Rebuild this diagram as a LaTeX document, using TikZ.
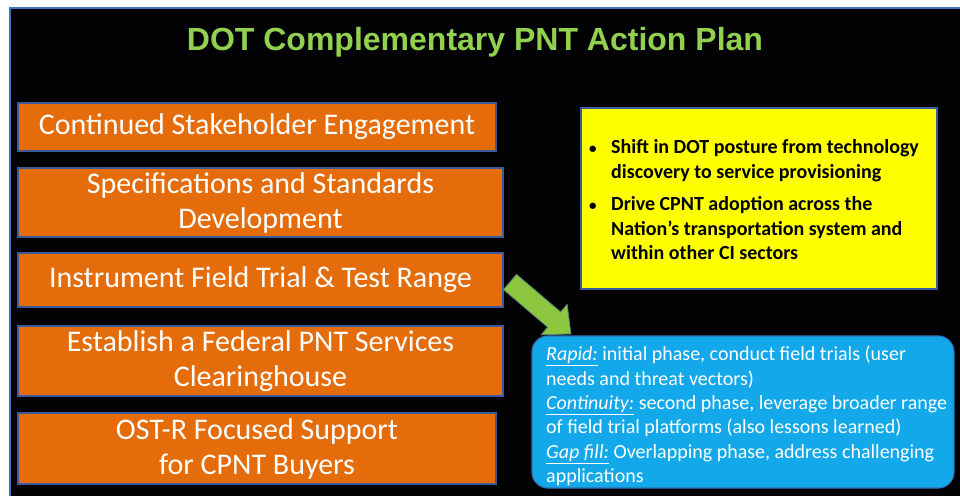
\documentclass[tikz,border=0pt]{standalone}
\usepackage{fontspec}
\setmainfont{Carlito}
\newfontfamily\titlefont{Liberation Sans}
\definecolor{bgblack}{HTML}{020205}
\definecolor{edgeblue}{HTML}{4472C4}
\definecolor{titlegreen}{HTML}{92D050}
\definecolor{boxorange}{HTML}{E46C0A}
\definecolor{boxedge}{HTML}{3B5C9C}
\definecolor{noteyellow}{HTML}{FFFF00}
\definecolor{phaseblue}{HTML}{12A8EA}
\definecolor{arrowgreen}{HTML}{8DC63F}
\begin{document}
\begin{tikzpicture}[x=1pt,y=-1pt,
  actionbox/.style={draw=boxedge, line width=1.2pt, fill=boxorange, text=white,
    font=\fontsize{30}{35}\selectfont, align=center, inner sep=0pt},
  notebox/.style={draw=boxedge, line width=1.2pt, fill=noteyellow, text=black,
    inner sep=0pt, minimum width=356pt, minimum height=181pt},
  phasebox/.style={draw=boxedge!70!phaseblue, line width=1.2pt, fill=phaseblue,
    rounded corners=16pt, inner sep=0pt, minimum width=422pt, minimum height=152pt}]
\useasboundingbox (0,0) rectangle (960,496);
\fill[white] (0,0) rectangle (960,496);
\fill[bgblack] (9,8) rectangle (960,496);
\draw[edgeblue, line width=2pt] (10,496) -- (10,8) -- (960,8);
% title
\node[text=titlegreen, font=\titlefont\bfseries\fontsize{32}{34}\selectfont] (title) at (475,42) {DOT Complementary PNT Action Plan};
% orange boxes
\node[actionbox, minimum width=478pt, minimum height=48pt] (b1) at (257,127) {Continued Stakeholder Engagement};
\node[actionbox, minimum width=485pt, minimum height=69pt] (b2) at (260.5,202.5) {Specifications and Standards\\Development};
\node[actionbox, minimum width=485pt, minimum height=54pt] (b3) at (260.5,280) {Instrument Field Trial \& Test Range};
\node[actionbox, minimum width=485pt, minimum height=70pt] (b4) at (260.5,361) {Establish a Federal PNT Services\\Clearinghouse};
\node[actionbox, minimum width=478pt, minimum height=71pt] (b5) at (257,448.5) {OST-R Focused Support\\for CPNT Buyers};
% yellow box
\node[notebox] (note) at (759,198.5) {};
\node[anchor=west, font=\bfseries\fontsize{20}{24.5}\selectfont, inner sep=0pt] (notetext) at (589,202)
  {\begin{tabular}{@{}p{22pt}@{}l@{}}
   {\fontsize{15}{15}\selectfont\textbullet} & Shift in DOT posture from technology\\
               & discovery to service provisioning\\[8pt]
   {\fontsize{15}{15}\selectfont\textbullet} & Drive CPNT adoption across the\\
               & Nation’s transportation system and\\
               & within other CI sectors
   \end{tabular}};
% blue box
\node[phasebox] (phase) at (743,412) {};
\node[anchor=west, align=left, text=white, font=\fontsize{20}{24.4}\selectfont, inner sep=0pt] (phasetext) at (546,416)
  {\underline{\textit{Rapid:}} initial phase, conduct field trials (user\\
   needs and threat vectors)\\
   \underline{\textit{Continuity:}} second phase, leverage broader range\\
   of field trial platforms (also lessons learned)\\
   \underline{\textit{Gap fill:}} Overlapping phase, address challenging\\
   applications};
% green arrow
\coordinate (arrowstart) at (510,282);
\begin{scope}[shift={(arrowstart)}, rotate=-40.4]
\draw[fill=arrowgreen, draw=boxedge!60!arrowgreen, line width=0.8pt]
  (0,-10) -- (58,-10) -- (58,-20) -- (80,0) -- (58,20) -- (58,10) -- (0,10) -- cycle;
\end{scope}
\end{tikzpicture}
\end{document}
